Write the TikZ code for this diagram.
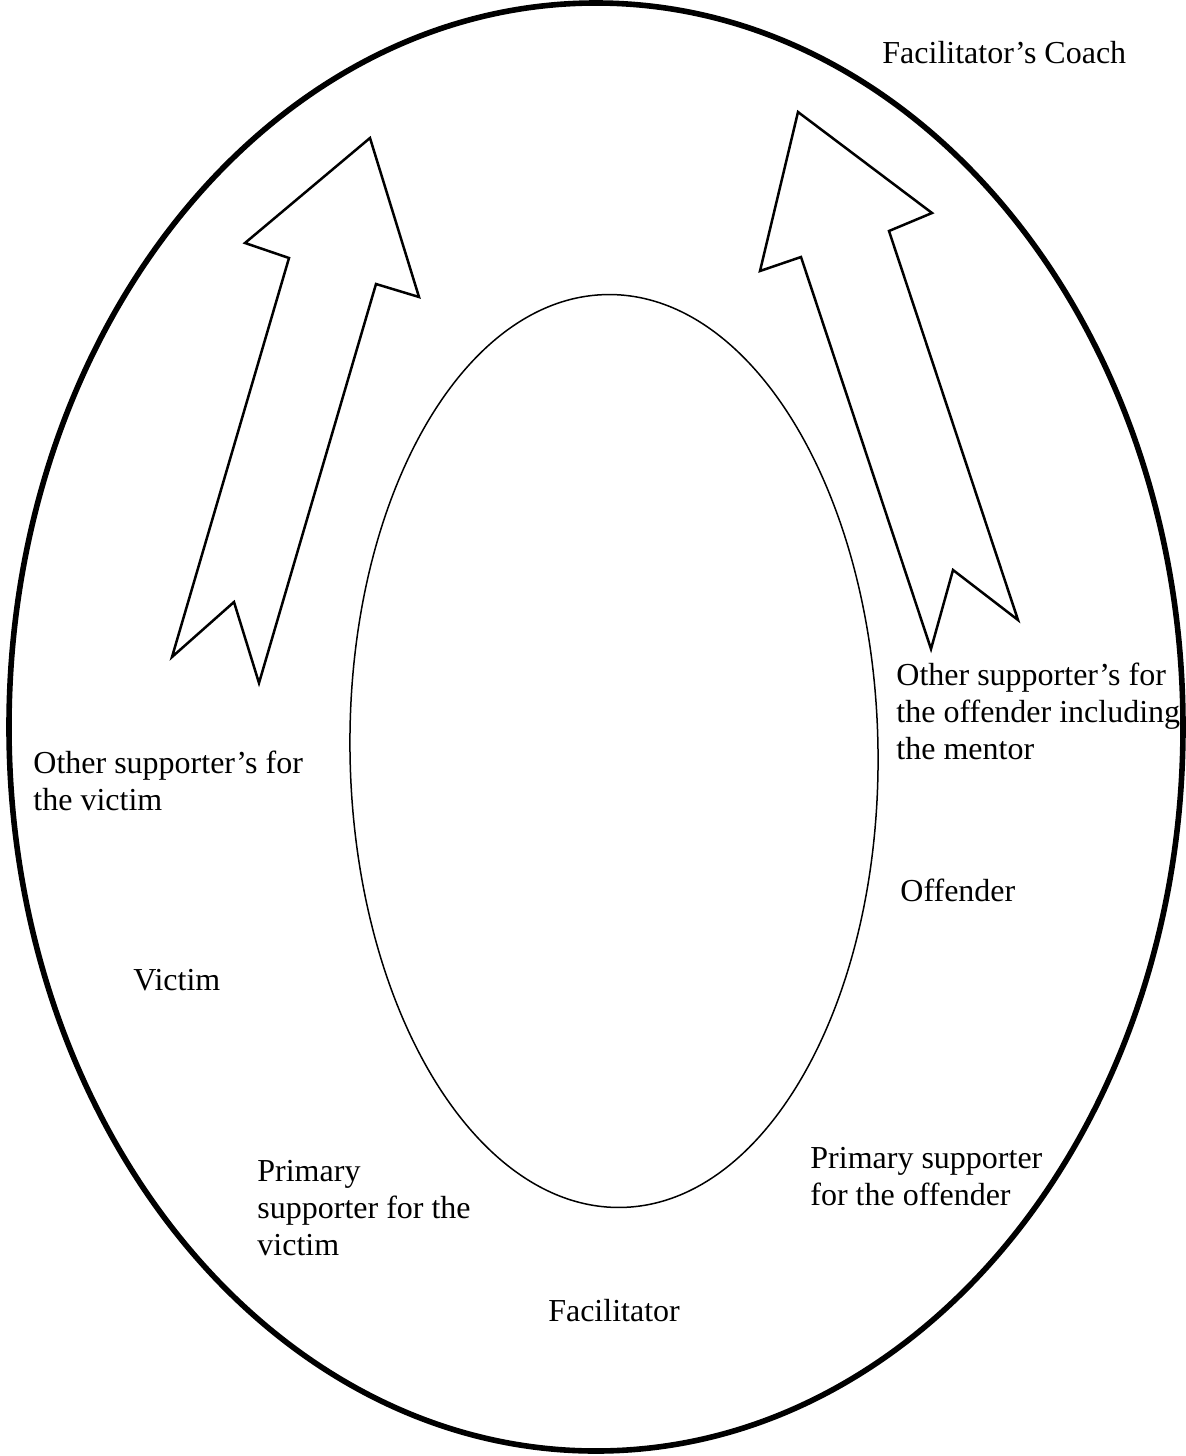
\documentclass[tikz,border=0pt]{standalone}
\usepackage{fontspec}
\setmainfont{Liberation Serif}
\usepackage{tikz}
\usetikzlibrary{shapes.geometric}
\tikzset{
    ring/.style={ellipse, draw, line width=2.8pt, inner sep=0pt},
    core/.style={ellipse, draw, line width=0.75pt, inner sep=0pt},
    bigarrow/.style={draw, line width=1.25pt, line join=miter, fill=white},
    role/.style={anchor=base west, align=left, inner sep=0pt, font=\fontsize{16}{18.5}\selectfont},
}

\begin{document}
\begin{tikzpicture}[x=0.5pt, y=-0.5pt]
    \useasboundingbox (0,0) rectangle (1185,1456);
    \node[ring, minimum width=587pt, minimum height=724pt] (outer) at (596,727) {};
    \node[core, minimum width=264pt, minimum height=456.5pt, rotate=0.9] (inner) at (614,751) {};

    % the two block arrows
    \draw[bigarrow] (370,138) -- (419,297) -- (376,284) -- (259,683) -- (234,602) -- (172,657) -- (289,258) -- (245,243) -- cycle;
    \draw[bigarrow] (798,112) -- (932,213) -- (889,231) -- (1018,620) -- (953,570) -- (931,649) -- (801,257) -- (760,271) -- cycle;

    % labels (base = last line)
    \node[role] (coach) at (882,63) {Facilitator’s Coach};
    \node[role] (othervictim) at (33,810) {Other supporter’s for\\the victim};
    \node[role] (victim) at (133,990) {Victim};
    \node[role] (primvictim) at (257,1255) {Primary\\supporter for the\\victim};
    \node[role, anchor=base] (facil) at (614,1321) {Facilitator};
    \node[role] (primoffender) at (810,1205) {Primary supporter\\for the offender};
    \node[role] (offender) at (900,901) {Offender};
    \node[role] (otheroffender) at (896,759) {Other supporter’s for\\the offender including\\the mentor};
\end{tikzpicture}
\end{document}
